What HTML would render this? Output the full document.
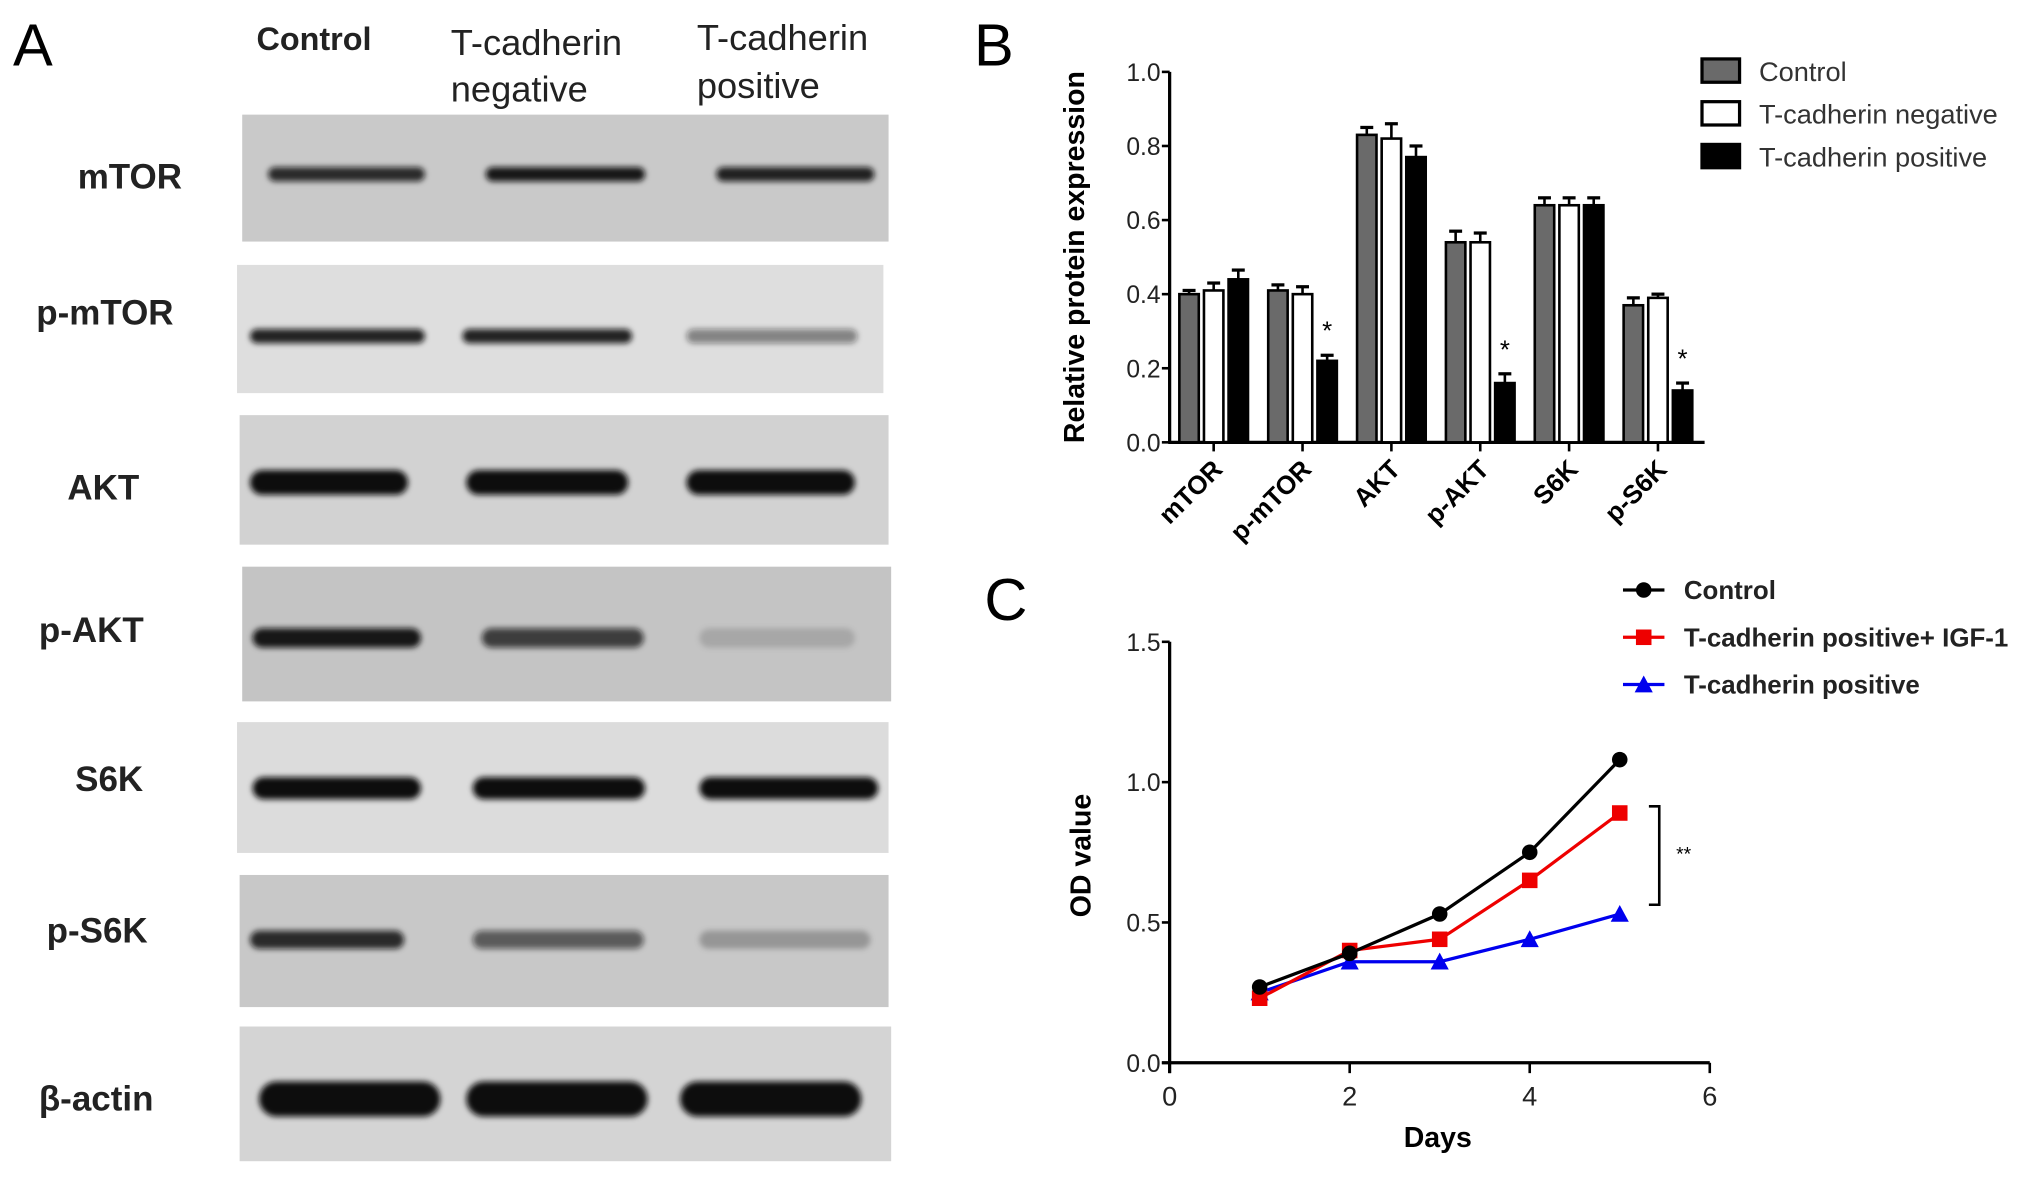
<!DOCTYPE html>
<html><head><meta charset="utf-8"><style>
html,body{margin:0;padding:0;background:#fff;}
svg{display:block;}
text{font-family:"Liberation Sans",sans-serif;}
</style></head><body>
<svg id="fig" width="2031" height="1180" viewBox="0 0 1568 910" xmlns="http://www.w3.org/2000/svg">
<defs><filter id="soft" x="-10%" y="-100%" width="120%" height="300%"><feGaussianBlur stdDeviation="2.2"/></filter></defs>
<rect width="1568" height="910" fill="#fff"/>
<g id="panelA"></g>
<g id="panelB"></g>
<g id="panelC"></g>
</svg>
<script>
// ---------- Panel B data ----------
const barCategories = ["mTOR","p-mTOR","AKT","p-AKT","S6K","p-S6K"];
const controlVals  = [0.40,0.41,0.83,0.54,0.64,0.37];
const negativeVals = [0.41,0.40,0.82,0.54,0.64,0.39];
const positiveVals = [0.44,0.22,0.77,0.16,0.64,0.14];
const controlErr  = [0.01,0.015,0.02,0.03,0.02,0.02];
const negativeErr = [0.02,0.02,0.04,0.025,0.02,0.01];
const positiveErr = [0.025,0.015,0.03,0.025,0.02,0.02];
const sigStars = [false,true,false,true,false,true];
const barYTicks = ["0.0","0.2","0.4","0.6","0.8","1.0"];
const barSeriesNames = ["Control","T-cadherin negative","T-cadherin positive"];
// ---------- Panel C data ----------
const days = [1,2,3,4,5];
const odControl = [0.27,0.39,0.53,0.75,1.08];
const odIGF = [0.23,0.40,0.44,0.65,0.89];
const odPositive = [0.25,0.36,0.36,0.44,0.53];
const odYTicks = ["0.0","0.5","1.0","1.5"];
const odXTicks = ["0","2","4","6"];
const lineSeriesNames = ["Control","T-cadherin positive+ IGF-1","T-cadherin positive"];

const NS="http://www.w3.org/2000/svg";
function mk(tag,attrs,parent,txt){const e=document.createElementNS(NS,tag);for(const k in attrs)e.setAttribute(k,attrs[k]);if(txt!==undefined)e.textContent=txt;parent.appendChild(e);return e;}

// ---------- Panel A ----------
const A=document.getElementById('panelA');
let t;
t=mk('text',{x:10,y:50,'font-size':46},A,'A');


const hdr=[["Control",198,38,true],["T-cadherin",348,42,false],["negative",348,78,false],["T-cadherin",538,38,false],["positive",538,75,false]];
hdr.forEach(h=>{t=mk('text',{x:h[1],y:h[2],'font-size':h[3]?25:28,'font-weight':h[3]?'bold':'normal',fill:'#222'},A,h[0]);

});
const blots=[
 {n:"mTOR",lx:60,ly:145,x:187,y:88,w:499,h:98,bg:"#c9c9c9",by:134,bh:11,lanes:[[207,328,.85],[375,498,.95],[553,675,.9]]},
 {n:"p-mTOR",lx:28,ly:250,x:183,y:204,w:499,h:99,bg:"#dedede",by:259,bh:11,lanes:[[193,328,.9],[357,488,.9],[530,662,.45]]},
 {n:"AKT",lx:52,ly:385,x:185,y:320,w:501,h:100,bg:"#d2d2d2",by:372,bh:19,lanes:[[193,315,1],[360,485,1],[530,660,1]]},
 {n:"p-AKT",lx:30,ly:495,x:187,y:437,w:501,h:104,bg:"#c4c4c4",by:492,bh:15,lanes:[[195,325,.95],[372,497,.75],[540,660,.15]]},
 {n:"S6K",lx:58,ly:610,x:183,y:557,w:503,h:101,bg:"#dcdcdc",by:608,bh:17,lanes:[[195,325,1],[365,498,1],[540,678,1]]},
 {n:"p-S6K",lx:36,ly:727,x:185,y:675,w:501,h:102,bg:"#c8c8c8",by:725,bh:14,lanes:[[193,312,.85],[365,497,.6],[540,672,.25]]},
 {n:"β-actin",lx:30,ly:857,x:185,y:792,w:503,h:104,bg:"#d4d4d4",by:848,bh:27,lanes:[[200,340,1],[360,500,1],[525,665,1]]}
];
blots.forEach(b=>{
 const g=mk('g',{},A);
 
 
 mk('rect',{x:b.x,y:b.y,width:b.w,height:b.h,fill:b.bg},g);
 b.lanes.forEach(l=>{const e=mk('rect',{x:l[0],y:b.by-b.bh/2,width:l[1]-l[0],height:b.bh,rx:b.bh/2,fill:'#111','fill-opacity':l[2],filter:'url(#soft)'},g);
  
  });
 t=mk('text',{x:b.lx,y:b.ly,'font-size':27,'font-weight':'bold',fill:'#222'},A,b.n);
 
 
});

// ---------- Panel B ----------
const B=document.getElementById('panelB');
t=mk('text',{x:752,y:50,'font-size':46},B,'B');


const bx0=903,bx1=1316,by0=341,by1=55;
const yB=v=>by0-(v/1.0)*(by0-by1);
const groupX=i=>937+i*68.6;
mk('line',{x1:bx0,y1:by1,x2:bx0,y2:by0+1,stroke:'#000','stroke-width':2.5},B);
mk('line',{x1:bx0-1,y1:by0,x2:bx1,y2:by0,stroke:'#000','stroke-width':2.5},B);
barYTicks.forEach(s=>{const v=parseFloat(s);const y=yB(v);
 mk('line',{x1:bx0-6,y1:y,x2:bx0,y2:y,stroke:'#000','stroke-width':2},B);
 t=mk('text',{x:bx0-7,y:y+7,'font-size':19,'text-anchor':'end',fill:'#222'},B,s);
 
 });
t=mk('text',{x:0,y:0,'font-size':22,'font-weight':'bold','text-anchor':'middle',transform:'translate(837,198) rotate(-90)'},B,'Relative protein expression');


const series=[[controlVals,controlErr,'#6a6a6a'],[negativeVals,negativeErr,'#fff'],[positiveVals,positiveErr,'#000']];
barCategories.forEach((c,i)=>{
 const cx=groupX(i);
 mk('line',{x1:cx,y1:by0,x2:cx,y2:by0+7,stroke:'#000','stroke-width':2},B);
 t=mk('text',{x:0,y:0,'font-size':20,'font-weight':'bold','text-anchor':'end',transform:`translate(${cx+8},${by0+22}) rotate(-45)`},B,c);
 
 
 series.forEach((s,j)=>{
  const bw=15, x=cx-bw/2+(j-1)*19, v=s[0][i], e=s[1][i];
  const ye=yB(v+e);
  mk('line',{x1:x+bw/2,y1:yB(v),x2:x+bw/2,y2:ye,stroke:'#000','stroke-width':2},B);
  mk('line',{x1:x+bw/2-5,y1:ye,x2:x+bw/2+5,y2:ye,stroke:'#000','stroke-width':2.5},B);
  const r=mk('rect',{x:x,y:yB(v),width:bw,height:by0-yB(v),fill:s[2],stroke:'#000','stroke-width':2},B);
  
  
 });
 if(sigStars[i]){const x=cx+19;
  t=mk('text',{x:x,y:yB(positiveVals[i]+positiveErr[i])-12,'font-size':20,'text-anchor':'middle'},B,'*');
  
  }
});
const legFills=['#6a6a6a','#fff','#000'];
barSeriesNames.forEach((n,i)=>{const y=45+i*33;
 const g=mk('g',{},B);
 
 
 mk('rect',{x:1314,y:y,width:29,height:18,fill:legFills[i],stroke:'#000','stroke-width':2.5},g);
 mk('text',{x:1358,y:y+17,'font-size':21,fill:'#333'},g,n);});

// ---------- Panel C ----------
const C=document.getElementById('panelC');
t=mk('text',{x:760,y:478,'font-size':46},C,'C');


const cx0=903,cx1=1320,cy0=820,cy1=495;
const xC=d=>cx0+d/6*(cx1-cx0);
const yC=v=>cy0-v/1.5*(cy0-cy1);
mk('line',{x1:cx0,y1:cy1,x2:cx0,y2:cy0+8,stroke:'#000','stroke-width':2.5},C);
mk('line',{x1:cx0-6,y1:cy0,x2:cx1,y2:cy0,stroke:'#000','stroke-width':2.5},C);
odYTicks.forEach(s=>{const y=yC(parseFloat(s));
 mk('line',{x1:cx0-6,y1:y,x2:cx0,y2:y,stroke:'#000','stroke-width':2},C);
 t=mk('text',{x:cx0-7,y:y+7,'font-size':19,'text-anchor':'end',fill:'#222'},C,s);
 
 });
odXTicks.forEach(s=>{const x=xC(parseFloat(s));
 mk('line',{x1:x,y1:cy0,x2:x,y2:cy0+8,stroke:'#000','stroke-width':2},C);
 t=mk('text',{x:x,y:cy0+33,'font-size':21,'text-anchor':'middle',fill:'#222'},C,s);
 
 });
t=mk('text',{x:1110,y:885,'font-size':22,'font-weight':'bold','text-anchor':'middle'},C,'Days');


t=mk('text',{x:0,y:0,'font-size':22,'font-weight':'bold','text-anchor':'middle',transform:'translate(842,660) rotate(-90)'},C,'OD value');


function marker(g,type,x,y,col){
 if(type==='c')return mk('circle',{cx:x,cy:y,r:6,fill:col},g);
 if(type==='s')return mk('rect',{x:x-6,y:y-6,width:12,height:12,fill:col},g);
 return mk('polygon',{points:`${x},${y-7} ${x-7},${y+6} ${x+7},${y+6}`,fill:col},g);
}
const lines=[[odPositive,'#0000ee','t'],[odIGF,'#ee0000','s'],[odControl,'#000','c']];
lines.forEach(L=>{
 const g=mk('g',{},C);
 
 
 mk('polyline',{points:days.map((d,i)=>xC(d)+','+yC(L[0][i])).join(' '),fill:'none',stroke:L[1],'stroke-width':2.5},g);
 days.forEach((d,i)=>{const m=marker(g,L[2],xC(d),yC(L[0][i]),L[1]);
  
  });
});
const br=mk('polyline',{points:'1273,622 1281,622 1281,698 1273,698',fill:'none',stroke:'#000','stroke-width':2},C);


t=mk('text',{x:1294,y:664,'font-size':15},C,'**');


const legC=[['#000','c'],['#ee0000','s'],['#0000ee','t']];
lineSeriesNames.forEach((n,i)=>{const y=455+i*36.5;
 const g=mk('g',{},C);
 
 
 mk('line',{x1:1253,y1:y,x2:1285,y2:y,stroke:legC[i][0],'stroke-width':2.5},g);
 marker(g,legC[i][1],1269,y,legC[i][0]);
 mk('text',{x:1300,y:y+7,'font-size':20,'font-weight':'bold',fill:'#222'},g,n);});
</script>
</body></html>
